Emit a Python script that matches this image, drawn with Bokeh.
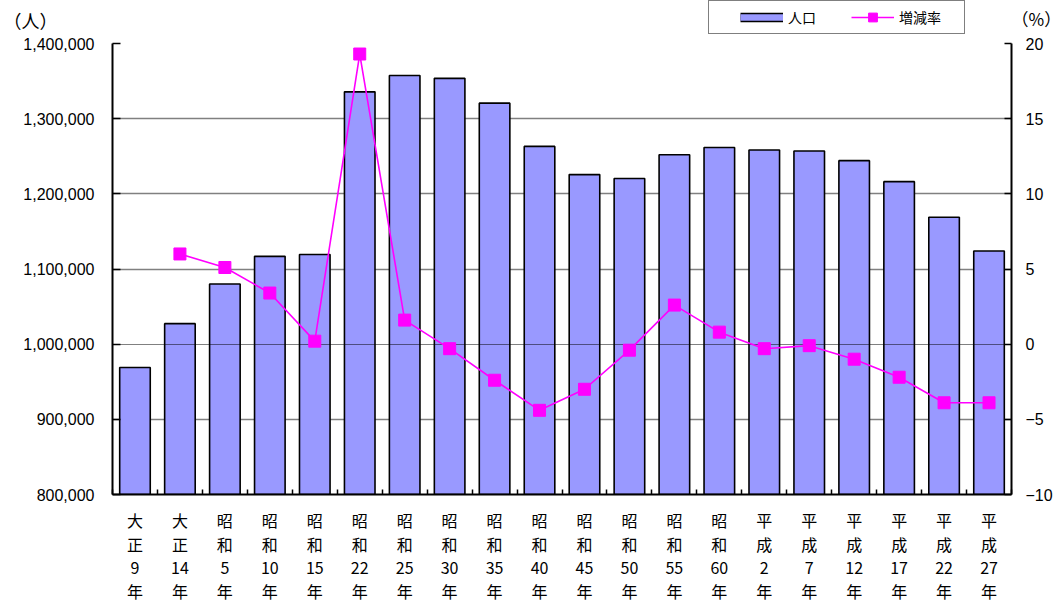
import numpy as np
from bokeh.plotting import figure
from bokeh.layouts import column
from bokeh.core.properties import value
from bokeh.models import (Range1d, LinearAxis, FixedTicker, NumeralTickFormatter,
                          Legend, LegendItem, LabelSet, ColumnDataSource)
from bokeh.embed import file_html
from bokeh.resources import INLINE

# ---------------- data ----------------
eras = ["大正", "大正", "昭和", "昭和", "昭和", "昭和", "昭和", "昭和", "昭和", "昭和",
        "昭和", "昭和", "昭和", "昭和", "平成", "平成", "平成", "平成", "平成", "平成"]
years = ["9", "14", "5", "10", "15", "22", "25", "30", "35", "40",
         "45", "50", "55", "60", "2", "7", "12", "17", "22", "27"]
population = [968925, 1027297, 1080034, 1116822, 1119338, 1335653, 1357347, 1353649,
              1320664, 1263103, 1225618, 1220302, 1251917, 1261662, 1258390, 1256958,
              1244147, 1216181, 1168924, 1123891]
rate = [None, 6.0, 5.1, 3.4, 0.2, 19.3, 1.6, -0.3, -2.4, -4.4,
        -3.0, -0.4, 2.6, 0.8, -0.3, -0.1, -1.0, -2.2, -3.9, -3.9]
left_ticks = [800000, 900000, 1000000, 1100000, 1200000, 1300000, 1400000]
right_ticks = [-10, -5, 0, 5, 10, 15, 20]
right_labels = {-10: "−10", -5: "−5"}
series_names = ["人口", "増減率"]
unit_left = "（人）"
unit_right = "（%）"
year_suffix = "年"

n = len(population)
xs = list(range(n))
rate_arr = np.array([np.nan if r is None else r for r in rate], dtype=float)

BAR = "#9999FF"
MAG = "#FF00FF"
NUM_FONT = "Liberation Sans"
JP_FONT = "Noto Sans CJK JP"
W = 1064
TOP_H, MAIN_H, BOT_H = 35, 471, 96

x_range = Range1d(-0.5, n - 0.5)

# ================= main chart =================
p_main = figure(width=W, height=MAIN_H, output_backend="svg", toolbar_location=None,
                x_range=x_range, y_range=Range1d(left_ticks[0], left_ticks[-1]),
                min_border_left=111, min_border_right=49, min_border_top=8,
                min_border_bottom=12)
p_main.extra_y_ranges = {"pct": Range1d(right_ticks[0], right_ticks[-1])}
p_main.outline_line_color = None

p_main.xgrid.visible = False
p_main.ygrid.ticker = FixedTicker(ticks=[t for t in left_ticks if t != 1000000])
p_main.ygrid.grid_line_color = "#808080"
p_main.ygrid.grid_line_width = 1.3

# bottom axis: only the small inward ticks between categories (labels drawn below)
xa = p_main.xaxis[0]
xa.ticker = FixedTicker(ticks=[], minor_ticks=[i - 0.5 for i in range(n + 1)])
xa.major_label_standoff = 0
xa.major_tick_in = 0
xa.major_tick_out = 0
xa.minor_tick_in = 5
xa.minor_tick_out = 0
xa.minor_tick_line_color = "black"
xa.minor_tick_line_width = 1.5
xa.axis_line_color = "black"
xa.axis_line_width = 2

ya = p_main.yaxis[0]
ya.ticker = FixedTicker(ticks=left_ticks)
ya.formatter = NumeralTickFormatter(format="0,0")
ya.major_label_text_font = NUM_FONT
ya.major_label_text_font_size = "16px"
ya.major_label_text_color = "black"
ya.major_label_standoff = 18
ya.major_tick_in = 8
ya.major_tick_out = 0
ya.minor_tick_line_color = None
ya.axis_line_color = "black"
ya.axis_line_width = 2
ya.major_tick_line_color = "black"
ya.major_tick_line_width = 1.5

ra = LinearAxis(y_range_name="pct", ticker=FixedTicker(ticks=right_ticks))
ra.major_label_overrides = right_labels
ra.major_label_text_font = NUM_FONT
ra.major_label_text_font_size = "16px"
ra.major_label_text_color = "black"
ra.major_label_standoff = 14
ra.major_tick_in = 7
ra.major_tick_out = 0
ra.minor_tick_line_color = None
ra.axis_line_color = "black"
ra.axis_line_width = 2
ra.major_tick_line_color = "black"
ra.major_tick_line_width = 1.5
p_main.add_layout(ra, "right")

p_main.vbar(x=xs, top=population, bottom=0, width=0.68,
            fill_color=BAR, line_color="black", line_width=1.6)
p_main.hspan(y=[0], y_range_name="pct", line_color="black", line_width=1.2,
             line_dash="1 1")
p_main.line(x=xs, y=rate_arr, y_range_name="pct", line_color=MAG, line_width=1.6)
p_main.scatter(x=xs, y=rate_arr, y_range_name="pct", marker="square", size=12,
               fill_color=MAG, line_color=MAG)

# ================= top strip: unit captions + legend =================
p_top = figure(width=W, height=TOP_H, output_backend="svg", toolbar_location=None,
               x_range=Range1d(0, 1), y_range=Range1d(0, TOP_H),
               x_axis_location=None, y_axis_location=None,
               min_border_left=111, min_border_right=49, min_border_top=0,
               min_border_bottom=0)
p_top.outline_line_color = None
p_top.grid.visible = False

# unit captions as the single tick label of a bare left / right axis
ul = LinearAxis(ticker=FixedTicker(ticks=[16]), major_label_overrides={16: unit_left},
                major_label_text_font=JP_FONT, major_label_text_font_size="18px",
                major_label_text_color="black", major_label_standoff=55,
                axis_line_color=None, major_tick_line_color=None,
                minor_tick_line_color=None, major_tick_in=0, major_tick_out=0)
p_top.add_layout(ul, "left")
ur = LinearAxis(ticker=FixedTicker(ticks=[17]), major_label_overrides={17: unit_right},
                major_label_text_font=JP_FONT, major_label_text_font_size="17px",
                major_label_text_color="black", major_label_standoff=0,
                axis_line_color=None, major_tick_line_color=None,
                minor_tick_line_color=None, major_tick_in=0, major_tick_out=0)
p_top.add_layout(ur, "right")

# legend-only proxy glyphs (their points lie outside the strip's visible range)
px = [-5, -4]
py = [-5, -5]
pb1 = p_top.line(x=px, y=py, line_color="black", line_width=9.5, line_cap="butt")
pb2 = p_top.line(x=px, y=py, line_color=BAR, line_width=6.5, line_cap="butt")
pl = p_top.line(x=px, y=py, line_color=MAG, line_width=1.6)
pm = p_top.scatter(x=px, y=py, marker="square", fill_color=MAG, line_color=MAG)

legend = Legend(items=[LegendItem(label=series_names[0], renderers=[pb1, pb2]),
                       LegendItem(label=series_names[1], renderers=[pl, pm])],
                orientation="horizontal", location=(596, 1),
                padding=5, spacing=3, margin=0,
                glyph_width=43, glyph_height=22, label_standoff=5, label_width=60,
                label_text_font=JP_FONT, label_text_font_size="14px",
                label_text_color="black",
                border_line_color="black", border_line_width=1.2,
                background_fill_color="white", background_fill_alpha=1,
                title=" ", title_location="left", title_text_font_size="12px",
                title_standoff=12)
p_top.add_layout(legend, "center")

# ================= bottom strip: vertical category labels =================
p_bot = figure(width=W, height=BOT_H, output_backend="svg", toolbar_location=None,
               x_range=x_range, y_range=Range1d(-108, -12),
               x_axis_location=None, y_axis_location=None,
               min_border_left=111, min_border_right=49, min_border_top=0,
               min_border_bottom=0)
p_bot.outline_line_color = None
p_bot.grid.visible = False

lab_src = ColumnDataSource(dict(
    x=xs,
    r0=[e[0] for e in eras],
    r1=[e[1] for e in eras],
    r2=years,
    r3=[year_suffix] * n,
))
for col, off in (("r0", -25), ("r1", -49), ("r2", -73), ("r3", -96)):
    p_bot.add_layout(LabelSet(x="x", y=off, text=col, source=lab_src,
                              text_align="center", text_baseline="middle",
                              text_font=value(JP_FONT), text_font_size="16px",
                              text_color="black"))

p = column(p_top, p_main, p_bot, spacing=0)

open("out.html", "w").write(file_html(p, INLINE))
